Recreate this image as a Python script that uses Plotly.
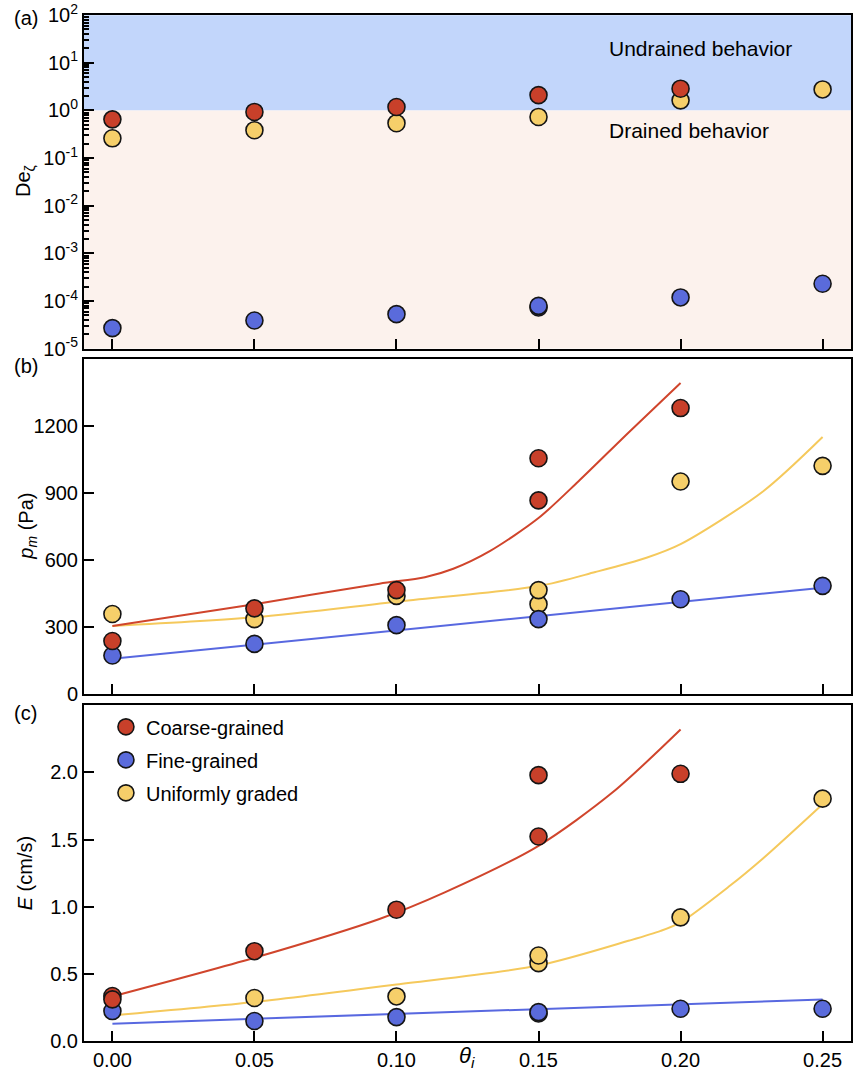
import plotly.graph_objects as go

# ---------------- data ----------------
theta_ticks = [0.0, 0.05, 0.10, 0.15, 0.20, 0.25]
theta_labels = ["0.00", "0.05", "0.10", "0.15", "0.20", "0.25"]

# (a) Deborah number
a_coarse_x = [0.0, 0.05, 0.10, 0.15, 0.20]
a_coarse_y = [0.65, 0.93, 1.18, 2.1, 2.86]
a_fine_x = [0.0, 0.05, 0.10, 0.15, 0.15, 0.20, 0.25]
a_fine_y = [2.7e-5, 3.9e-5, 5.3e-5, 7.3e-5, 7.9e-5, 1.19e-4, 2.3e-4]
a_unif_x = [0.0, 0.05, 0.10, 0.15, 0.20, 0.25]
a_unif_y = [0.26, 0.385, 0.54, 0.73, 1.63, 2.76]

a_tickvals = [1e-5, 1e-4, 1e-3, 1e-2, 1e-1, 1e0, 1e1, 1e2]
a_ticktext = ["10<sup>-5</sup>", "10<sup>-4</sup>", "10<sup>-3</sup>", "10<sup>-2</sup>",
              "10<sup>-1</sup>", "10<sup>0</sup>", "10<sup>1</sup>", "10<sup>2</sup>"]
a_minor = [k * 10.0 ** n for n in range(-5, 2) for k in range(2, 10)]

# (b) p_m (Pa)
b_coarse_x = [0.0, 0.05, 0.10, 0.15, 0.15, 0.20]
b_coarse_y = [236, 382, 464, 1055, 866, 1280]
b_fine_x = [0.0, 0.05, 0.10, 0.15, 0.20, 0.25]
b_fine_y = [171, 223, 307, 334, 423, 483]
b_unif_x = [0.0, 0.05, 0.10, 0.15, 0.15, 0.20, 0.25]
b_unif_y = [357, 334, 438, 401, 464, 951, 1021]

b_fit_coarse_x = [0.0, 0.05, 0.094, 0.11, 0.12, 0.133, 0.15, 0.164, 0.182, 0.20]
b_fit_coarse_y = [303, 401, 493, 522, 560, 640, 787, 951, 1174, 1392]
b_fit_unif_x = [0.0, 0.05, 0.10, 0.15, 0.17, 0.188, 0.20, 0.229, 0.25]
b_fit_unif_y = [303, 342, 412, 482, 545, 609, 670, 906, 1150]
b_fit_fine_x = [0.0, 0.25]
b_fit_fine_y = [156, 475]

# (c) E (cm/s)
c_coarse_x = [0.0, 0.0, 0.05, 0.10, 0.15, 0.15, 0.20]
c_coarse_y = [0.335, 0.31, 0.669, 0.978, 1.98, 1.523, 1.99]
c_fine_x = [0.0, 0.05, 0.10, 0.15, 0.15, 0.20, 0.25]
c_fine_y = [0.223, 0.149, 0.178, 0.205, 0.215, 0.24, 0.24]
c_unif_x = [0.05, 0.10, 0.15, 0.15, 0.20, 0.25]
c_unif_y = [0.32, 0.332, 0.58, 0.637, 0.921, 1.805]

c_fit_coarse_x = [0.0, 0.05, 0.094, 0.117, 0.15, 0.176, 0.20]
c_fit_coarse_y = [0.332, 0.62, 0.909, 1.107, 1.454, 1.85, 2.32]
c_fit_unif_x = [0.0, 0.05, 0.10, 0.15, 0.182, 0.193, 0.20, 0.217, 0.229, 0.25]
c_fit_unif_y = [0.19, 0.29, 0.42, 0.562, 0.748, 0.82, 0.884, 1.15, 1.36, 1.764]
c_fit_fine_x = [0.0, 0.25]
c_fit_fine_y = [0.129, 0.31]

series_names = ["Coarse-grained", "Fine-grained", "Uniformly graded"]

# ---------------- style ----------------
W, H = 854, 1073
ML, MR, MT, MB = 84, 1, 14, 32
FONT = "Arial, Liberation Sans, sans-serif"
RED, BLUE, YEL = "#C8402A", "#5A6BDB", "#F6CF6A"
LRED, LBLUE, LYEL = "#D0452C", "#5868E0", "#F5C95C"
EDGE = "#151515"
MSIZE = 17

def py(p):  # pixel y -> paper y
    return (H - MB - p) / (H - MT - MB)

def px(p):  # pixel x -> paper x
    return (p - ML) / (W - ML - MR)

fig = go.Figure()

def marker_trace(x, y, color, name, xa, ya, show, rank):
    fig.add_trace(go.Scatter(
        x=x, y=y, mode="markers", name=name, showlegend=show, legendrank=rank,
        legendgroup="g%d" % rank,
        marker=dict(size=MSIZE, color=color, line=dict(color=EDGE, width=1.6)),
        xaxis=xa, yaxis=ya))

def line_trace(x, y, color, xa, ya, spline=True):
    fig.add_trace(go.Scatter(
        x=x, y=y, mode="lines", showlegend=False, hoverinfo="skip",
        line=dict(color=color, width=2, shape="spline" if spline else "linear", smoothing=0.8),
        xaxis=xa, yaxis=ya))

# (a)
marker_trace(a_unif_x, a_unif_y, YEL, series_names[2], "x", "y", False, 3)
marker_trace(a_fine_x, a_fine_y, BLUE, series_names[1], "x", "y", False, 2)
marker_trace(a_coarse_x, a_coarse_y, RED, series_names[0], "x", "y", False, 1)

# (b)
line_trace(b_fit_fine_x, b_fit_fine_y, LBLUE, "x2", "y2", False)
line_trace(b_fit_unif_x, b_fit_unif_y, LYEL, "x2", "y2")
line_trace(b_fit_coarse_x, b_fit_coarse_y, LRED, "x2", "y2")
marker_trace(b_unif_x, b_unif_y, YEL, series_names[2], "x2", "y2", False, 3)
marker_trace(b_fine_x, b_fine_y, BLUE, series_names[1], "x2", "y2", False, 2)
marker_trace(b_coarse_x, b_coarse_y, RED, series_names[0], "x2", "y2", False, 1)

# (c)
line_trace(c_fit_fine_x, c_fit_fine_y, LBLUE, "x3", "y3", False)
line_trace(c_fit_unif_x, c_fit_unif_y, LYEL, "x3", "y3")
line_trace(c_fit_coarse_x, c_fit_coarse_y, LRED, "x3", "y3")
marker_trace(c_unif_x, c_unif_y, YEL, series_names[2], "x3", "y3", True, 3)
marker_trace(c_fine_x, c_fine_y, BLUE, series_names[1], "x3", "y3", True, 2)
marker_trace(c_coarse_x, c_coarse_y, RED, series_names[0], "x3", "y3", True, 1)

axis_common = dict(showline=True, mirror=True, linecolor="black", linewidth=2,
                   ticks="inside", ticklen=10, tickwidth=2, tickcolor="black",
                   showgrid=False, zeroline=False, ticklabeloverflow="allow",
                   tickfont=dict(family=FONT, size=20, color="black"))

xcommon = dict(axis_common, range=[-0.01, 0.26], tickmode="array",
               tickvals=theta_ticks, ticktext=theta_labels)

dom_a = [py(348), py(14)]
dom_b = [py(693.3), py(358.3)]
dom_c = [py(H - MB), py(705)]

fig.update_layout(
    width=W, height=H,
    margin=dict(l=ML, r=MR, t=MT, b=MB),
    paper_bgcolor="white", plot_bgcolor="rgba(0,0,0,0)",
    font=dict(family=FONT, size=20, color="black"),
    xaxis=dict(xcommon, anchor="y", showticklabels=False),
    xaxis2=dict(xcommon, anchor="y2", showticklabels=False, matches="x"),
    xaxis3=dict(xcommon, anchor="y3", showticklabels=True, matches="x"),
    yaxis=dict(axis_common, domain=dom_a, anchor="x", type="log", range=[-5, 2.003],
               tickmode="array", tickvals=a_tickvals, ticktext=a_ticktext,
               minor=dict(ticks="inside", ticklen=5, tickwidth=1.5, tickcolor="black",
                          tickmode="array", tickvals=a_minor)),
    yaxis2=dict(axis_common, domain=dom_b, anchor="x2", range=[0, 1500],
                tickmode="array", tickvals=[0, 300, 600, 900, 1200],
                ticktext=["0", "300", "600", "900", "1200"]),
    yaxis3=dict(axis_common, domain=dom_c, anchor="x3", range=[0, 2.5],
                tickmode="array", tickvals=[0, 0.5, 1.0, 1.5, 2.0],
                ticktext=["0.0", "0.5", "1.0", "1.5", "2.0"]),
    legend=dict(x=px(106), y=py(707), xanchor="left", yanchor="top",
                bgcolor="rgba(0,0,0,0)", font=dict(family=FONT, size=20),
                itemsizing="trace", traceorder="grouped", tracegroupgap=4),
    showlegend=True,
)

# background regions in (a)
fig.add_shape(type="rect", xref="x domain", yref="y", x0=0, x1=1, y0=1, y1=100,
              fillcolor="#C2D6FB", line=dict(width=0), layer="below")
fig.add_shape(type="rect", xref="x domain", yref="y", x0=0, x1=1, y0=1e-5, y1=1,
              fillcolor="#FCF2ED", line=dict(width=0), layer="below")

ann = []
ann.append(dict(text="Undrained behavior", x=0.174, y=1.29, xref="x", yref="y",
                xanchor="left", yanchor="middle", showarrow=False, font=dict(size=21)))
ann.append(dict(text="Drained behavior", x=0.174, y=-0.43, xref="x", yref="y",
                xanchor="left", yanchor="middle", showarrow=False, font=dict(size=21)))
for lab, yy in [("(a)", 17), ("(b)", 365), ("(c)", 713)]:
    ann.append(dict(text=lab, x=px(12), y=py(yy), xref="paper", yref="paper",
                    xanchor="left", yanchor="middle", showarrow=False, font=dict(size=20)))
ann.append(dict(text="De<sub>ζ</sub>", x=px(25), y=py(180), xref="paper", yref="paper",
                textangle=-90, xanchor="center", yanchor="middle", showarrow=False,
                font=dict(size=20)))
ann.append(dict(text="<i>p<sub>m</sub></i> (Pa)", x=px(27), y=py(526), xref="paper", yref="paper",
                textangle=-90, xanchor="center", yanchor="middle", showarrow=False,
                font=dict(size=20)))
ann.append(dict(text="<i>E</i> (cm/s)", x=px(25), y=py(873), xref="paper", yref="paper",
                textangle=-90, xanchor="center", yanchor="middle", showarrow=False,
                font=dict(size=20)))
ann.append(dict(text="<i>θ<sub>i</sub></i>", x=px(468), y=py(1057), xref="paper", yref="paper",
                xanchor="center", yanchor="middle", showarrow=False, font=dict(size=22)))
fig.update_layout(annotations=ann)

fig.write_html("out.html", config={"displayModeBar": False},
               post_script="document.body.style.margin='0';")
